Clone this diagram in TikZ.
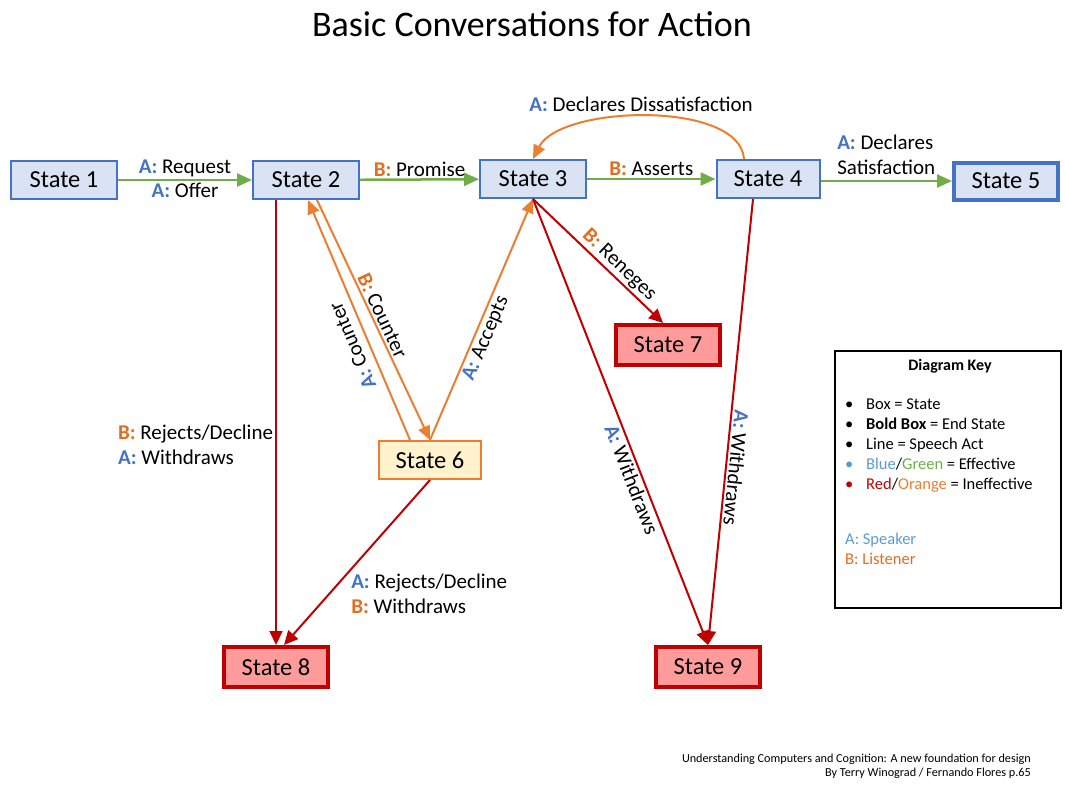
\documentclass[tikz,border=0pt]{standalone}
\usepackage{fontspec}
\setmainfont{Carlito}
\usetikzlibrary{arrows.meta,positioning}

\definecolor{boxblue}{HTML}{DAE3F3}
\definecolor{boxline}{HTML}{4472C4}
\definecolor{counterfill}{HTML}{FFF2CC}
\definecolor{orangeline}{HTML}{ED7D31}
\definecolor{failfill}{HTML}{FF9B9B}
\definecolor{failline}{HTML}{C00000}
\definecolor{greenline}{HTML}{70AD47}
\definecolor{redline}{HTML}{C00000}
\definecolor{tagblue}{HTML}{4472C4}
\definecolor{tagorange}{HTML}{E46C1E}
\definecolor{keyblue}{HTML}{5B9BD5}

\newcommand{\spkA}{\textcolor{tagblue}{\textbf{A:}}}
\newcommand{\lisB}{\textcolor{tagorange}{\textbf{B:}}}

\begin{document}
\begin{tikzpicture}[x=1pt,y=-1pt,
    state/.style={draw=boxline, fill=boxblue, line width=2pt, minimum width=106pt, minimum height=38pt, inner sep=0pt, font=\fontsize{24.5}{28}\selectfont},
    endstate/.style={state, line width=4pt, minimum width=104pt, minimum height=37pt},
    failstate/.style={state, draw=failline, fill=failfill, line width=4pt, minimum width=104pt, minimum height=40pt},
    counterstate/.style={state, draw=orangeline, fill=counterfill},
    good/.style={draw=greenline, line width=2.5pt, -{Triangle[length=15pt,width=13pt]}},
    weak/.style={draw=orangeline, line width=2pt, -{Triangle[length=14pt,width=12pt]}},
    bad/.style={draw=redline, line width=2pt, -{Triangle[length=14pt,width=13pt]}},
    act/.style={font=\fontsize{21}{25}\selectfont, inner sep=2pt}]
    \useasboundingbox (0,0) rectangle (1065,785);

    % title
    \node[font=\fontsize{36}{42}\selectfont] (title) at (532,24) {Basic Conversations for Action};

    % states
    \node[state] (s1) at (64,180) {State 1};
    \node[state] (s2) at (306,180) {State 2};
    \node[state] (s3) at (533,179) {State 3};
    \node[state, minimum width=103pt] (s4) at (768,179) {State 4};
    \node[endstate] (s5) at (1006,181) {State 5};
    \node[counterstate, minimum width=102pt] (s6) at (430,460) {State 6};
    \node[failstate] (s7) at (668,345) {State 7};
    \node[failstate] (s8) at (276,667) {State 8};
    \node[failstate] (s9) at (708,667) {State 9};

    % effective acts
    \draw[good] (s1) -- node[act, above] (req) {\spkA{} Request} node[act, below] (off) {\spkA{} Offer} (s2);
    \draw[good] (s2) -- node[act, above] (prom) {\lisB{} Promise} (s3);
    \draw[good] (s3) -- node[act, above] (asrt) {\lisB{} Asserts} (s4);
    \draw[good] (s4.east |- s5) -- node[act, above=3pt, align=left] (sat) {\spkA{} Declares\\Satisfaction} (s5);

    % counter offers
    \draw[weak] ([xshift=-24pt]s4.north) .. controls +(-4,-59) and +(27,-54) .. node[act, above=2pt, xshift=-6pt] (dis) {\spkA{} Declares Dissatisfaction} (s3.north);
    \draw[weak] ([xshift=11pt]s2.south) -- node[act, above, sloped] (bcnt) {\lisB{} Counter} (s6.north);
    \draw[weak] ([xshift=-20pt]s6.north) -- node[act, above=6pt, sloped, allow upside down, pos=0.42] (acnt) {\spkA{} Counter} ([xshift=2pt]s2.south);
    \draw[weak] (s6.north) -- node[act, below, sloped, pos=0.44] (acc) {\spkA{} Accepts} (s3.south);

    % ineffective acts
    \draw[bad] (s2.south -| s8.north) -- node[act, left, align=left, pos=0.55] (rej) {\lisB{} Rejects/Decline\\\spkA{} Withdraws} (s8.north);
    \draw[bad] (s3.south) -- node[act, above, sloped, pos=0.6] (ren) {\lisB{} Reneges} ([xshift=-5pt]s7.north);
    \draw[bad] (s3.south) -- node[act, below, sloped, pos=0.62] (wd3) {\spkA{} Withdraws} (s9.north);
    \draw[bad] ([xshift=-15pt]s4.south) -- node[act, above, sloped, allow upside down, pos=0.6] (wd4) {\spkA{} Withdraws} (s9.north);
    \draw[bad] (s6.south) -- node[act, right=19pt, align=left, pos=0.69] (rej6) {\spkA{} Rejects/Decline\\\lisB{} Withdraws} ([xshift=8pt]s8.north);

    % key
    \node[draw, line width=1.5pt, minimum width=226pt, minimum height=257pt] (key) at (948,479.5) {};
    \node[font=\fontsize{16}{20}\selectfont\bfseries] (keyhead) at (950,366) {Diagram Key};
    \node[anchor=west, align=left, inner sep=0pt, font=\fontsize{16.5}{20}\selectfont] (keylist) at (845,446)
        {\makebox[21pt][l]{\textbullet}Box = State\\
         \makebox[21pt][l]{\textbullet}\textbf{Bold Box} = End State\\
         \makebox[21pt][l]{\textbullet}Line = Speech Act\\
         \makebox[21pt][l]{\textcolor{keyblue}{\textbullet}}\textcolor{keyblue}{Blue}/\textcolor{greenline}{Green} = Effective\\
         \makebox[21pt][l]{\textcolor{redline}{\textbullet}}\textcolor{redline}{Red}/\textcolor{orangeline}{Orange} = Ineffective};
    \node[anchor=west, align=left, inner sep=0pt, font=\fontsize{16.5}{20}\selectfont] (keyroles) at (845,549)
        {\textcolor{keyblue}{A: Speaker}\\\textcolor{tagorange}{B: Listener}};

    % source
    \node[anchor=east, align=right, inner sep=0pt, font=\fontsize{12.2}{14}\selectfont] (src) at (1031,766)
        {Understanding Computers and Cognition: A new foundation for design\\By Terry Winograd / Fernando Flores p.65};
\end{tikzpicture}
\end{document}
